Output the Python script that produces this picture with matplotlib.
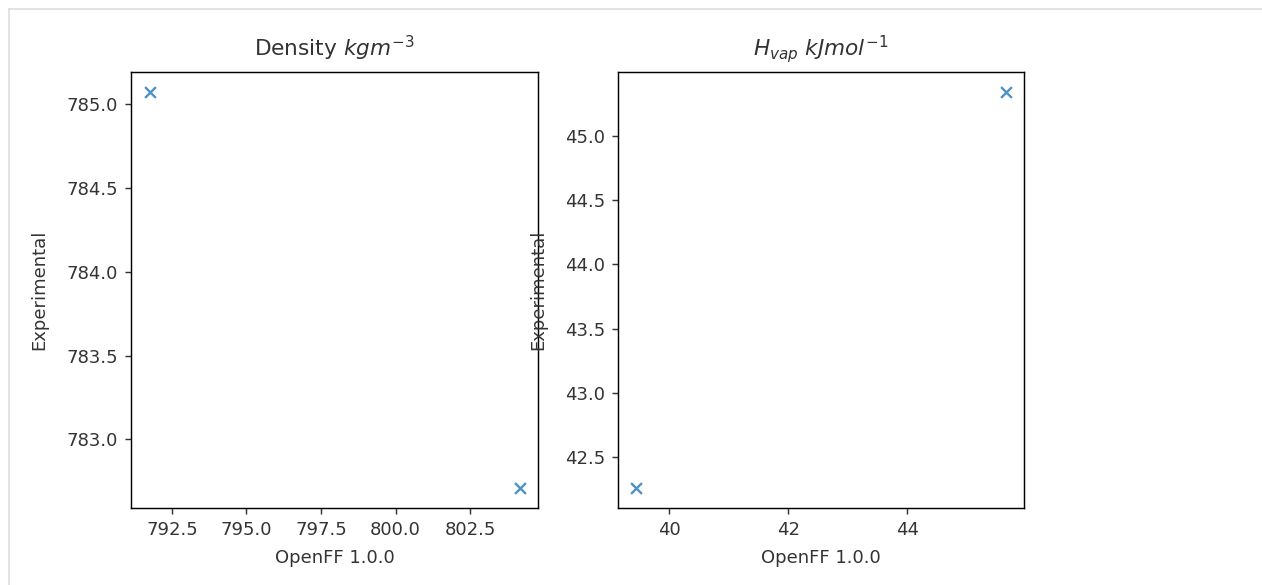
import numpy as np
import matplotlib
matplotlib.use('Agg')
import matplotlib.pyplot as plt
from matplotlib.lines import Line2D

# データ (OpenFF 1.0.0 vs 実験値)
density_openff = [791.75, 804.15]
density_exp = [785.07, 782.71]
hvap_openff = [39.45, 45.65]
hvap_exp = [42.26, 45.34]

density_xticks = [792.5, 795.0, 797.5, 800.0, 802.5]
hvap_xticks = [40, 42, 44]

plt.rcParams['text.color'] = '#333333'
plt.rcParams['axes.labelcolor'] = '#333333'
plt.rcParams['xtick.color'] = '#333333'
plt.rcParams['ytick.color'] = '#333333'

W, H = 1262, 585
fig = plt.figure(figsize=(W / 130, H / 130), dpi=130)

ax1 = fig.add_axes([131 / W, 77 / H, 407 / W, 436 / H])
ax2 = fig.add_axes([618 / W, 77 / H, 406 / W, 436 / H])

ax1.scatter(density_openff, density_exp, marker='x', alpha=0.8, linewidths=1.3)
ax1.set_xticks(density_xticks)
ax1.set_title('Density $kgm^{-3}$', pad=9)
ax1.set_xlabel('OpenFF 1.0.0', labelpad=6)
ax1.set_ylabel('Experimental', labelpad=10)

ax2.scatter(hvap_openff, hvap_exp, marker='x', alpha=0.8, linewidths=1.3)
ax2.set_xticks(hvap_xticks)
ax2.set_title('$H_{vap}$ $kJmol^{-1}$', pad=9)
ax2.set_xlabel('OpenFF 1.0.0', labelpad=6)
ax2.set_ylabel('Experimental', labelpad=10)

# ノートブックの枠線
fig.add_artist(Line2D([9 / W, 1], [1 - 9 / H, 1 - 9 / H], color='#e0e0e0', lw=1))
fig.add_artist(Line2D([9 / W, 9 / W], [0, 1 - 9 / H], color='#e0e0e0', lw=1))

fig.savefig('out.png', dpi=130)
